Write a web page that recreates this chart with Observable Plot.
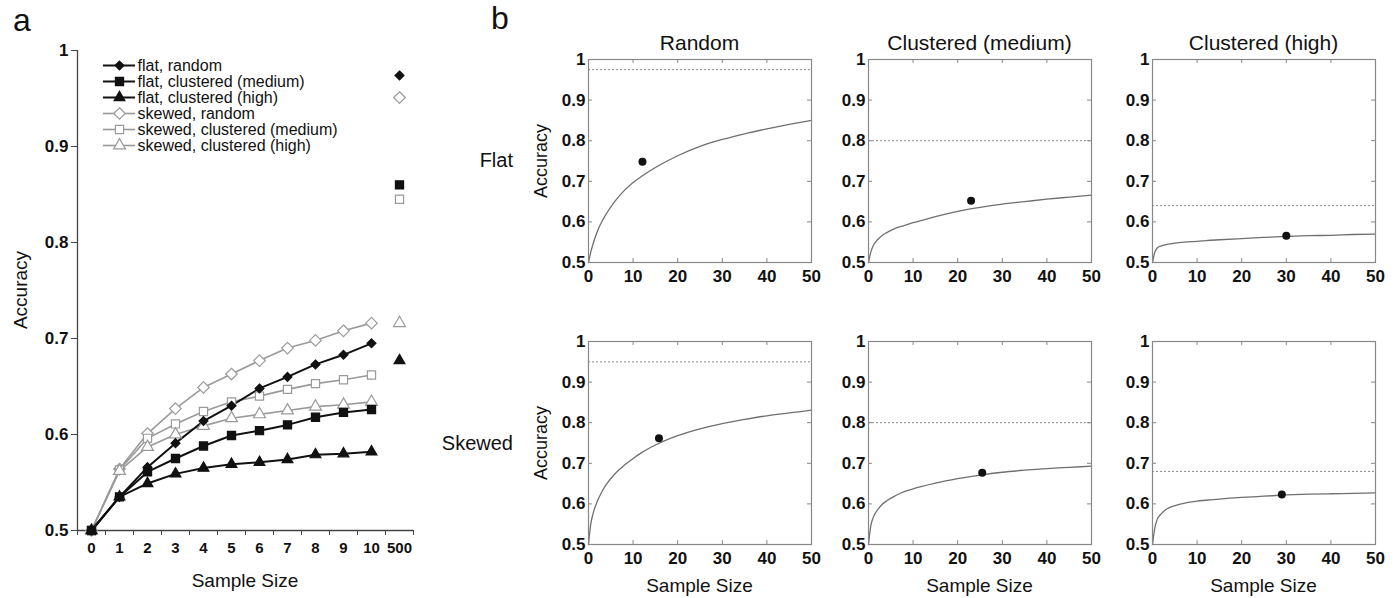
<!DOCTYPE html>
<html><head><meta charset="utf-8">
<script src="https://cdn.jsdelivr.net/npm/d3@7"></script>
<script src="https://cdn.jsdelivr.net/npm/@observablehq/plot@0.6"></script>
<style>
body{margin:0;background:#fff;}
#wrap{position:relative;width:1395px;height:598px;font-family:"Liberation Sans",Arial,sans-serif;overflow:hidden;background:#fff;color:#111;}
.lbl{position:absolute;white-space:nowrap;line-height:1;}
svg g[aria-label="x-axis tick label"] text, svg g[aria-label="y-axis tick label"] text{font-weight:bold;}
svg g[aria-label="x-axis tick label"], svg g[aria-label="y-axis tick label"]{font-weight:bold;}
</style></head><body><div id="wrap"></div>
<script>
// ---------- Panel a data ----------
const xTickLabelsA = ["0","1","2","3","4","5","6","7","8","9","10","500"];
const sampleSizesA = [0,1,2,3,4,5,6,7,8,9,10];
const seriesNames = ["flat, random","flat, clustered (medium)","flat, clustered (high)","skewed, random","skewed, clustered (medium)","skewed, clustered (high)"];
const flatRandom            = [0.500,0.535,0.566,0.591,0.614,0.630,0.648,0.660,0.673,0.683,0.695];
const flatClusteredMedium   = [0.500,0.535,0.561,0.575,0.588,0.599,0.604,0.610,0.618,0.623,0.626];
const flatClusteredHigh     = [0.500,0.535,0.549,0.559,0.565,0.569,0.571,0.574,0.579,0.580,0.582];
const skewedRandom          = [0.500,0.564,0.601,0.627,0.649,0.663,0.677,0.690,0.698,0.708,0.716];
const skewedClusteredMedium = [0.500,0.563,0.596,0.611,0.624,0.634,0.640,0.647,0.653,0.657,0.662];
const skewedClusteredHigh   = [0.500,0.562,0.587,0.600,0.609,0.617,0.621,0.625,0.629,0.631,0.634];
const accuracyAt500         = [0.974,0.860,0.677,0.951,0.845,0.716];
const yTicksA = [0.5,0.6,0.7,0.8,0.9,1];

// ---------- Panel b data ----------
const columnTitles = ["Random","Clustered (medium)","Clustered (high)"];
const rowTitles = ["Flat","Skewed"];
const sampleSizesB = [0,0.5,1,2,3,4,6,8,10,12,15,20,25,30,35,40,45,50];
const curveFlatRandom    = [0.500,0.525,0.545,0.577,0.601,0.620,0.652,0.677,0.697,0.713,0.734,0.763,0.786,0.803,0.817,0.829,0.840,0.850];
const curveFlatMedium    = [0.500,0.525,0.540,0.556,0.566,0.573,0.584,0.591,0.598,0.604,0.613,0.626,0.636,0.644,0.650,0.656,0.661,0.666];
const curveFlatHigh      = [0.500,0.525,0.535,0.541,0.544,0.546,0.549,0.551,0.552,0.554,0.556,0.559,0.562,0.564,0.566,0.567,0.569,0.570];
const curveSkewedRandom  = [0.500,0.550,0.575,0.607,0.630,0.648,0.675,0.695,0.712,0.727,0.745,0.768,0.785,0.798,0.808,0.817,0.824,0.831];
const curveSkewedMedium  = [0.500,0.545,0.565,0.585,0.598,0.607,0.620,0.630,0.637,0.643,0.651,0.662,0.671,0.678,0.683,0.687,0.690,0.693];
const curveSkewedHigh    = [0.500,0.540,0.560,0.576,0.586,0.592,0.599,0.604,0.607,0.609,0.612,0.616,0.619,0.622,0.624,0.625,0.626,0.627];
const observedX = [12.1, 23.0, 30.0, 15.8, 25.5, 29.0];
const observedY = [0.748, 0.652, 0.566, 0.762, 0.677, 0.623];
const asymptotes = [0.975, 0.80, 0.64, 0.95, 0.80, 0.68];
const yTicksB = [0.5,0.6,0.7,0.8,0.9,1];
const xTicksB = [0,10,20,30,40,50];

// ---------- helpers ----------
const wrap = document.getElementById("wrap");
function place(node, left, top) {
  node.style.position = "absolute";
  node.style.left = left + "px";
  node.style.top = top + "px";
  wrap.appendChild(node);
}
function label(text, left, top, size, opts = {}) {
  const d = document.createElement("div");
  d.className = "lbl";
  d.textContent = text;
  d.style.left = left + "px";
  d.style.top = top + "px";
  d.style.fontSize = size + "px";
  if (opts.transform) d.style.transform = opts.transform;
  if (opts.weight) d.style.fontWeight = opts.weight;
  wrap.appendChild(d);
}
const baseStyle = {fontFamily: "'Liberation Sans', Arial, sans-serif", fontSize: "16px", color: "#111", background: "transparent", overflow: "visible"};

// ---------- Panel a ----------
const seriesArrays = [flatRandom, flatClusteredMedium, flatClusteredHigh, skewedRandom, skewedClusteredMedium, skewedClusteredHigh];
const seriesLook = [
  {symbol: "diamond2", r: 4.0, fill: "#111", stroke: "#111", line: "#111", w: 2},
  {symbol: "square",   r: 4.6, fill: "#111", stroke: "#111", line: "#111", w: 2},
  {symbol: "triangle", r: 4.0, fill: "#111", stroke: "#111", line: "#111", w: 2},
  {symbol: "diamond2", r: 5.2, fill: "#fff", stroke: "#9a9a9a", line: "#9a9a9a", w: 1.6},
  {symbol: "square",   r: 4.6, fill: "#fff", stroke: "#9a9a9a", line: "#9a9a9a", w: 1.6},
  {symbol: "triangle", r: 4.4, fill: "#fff", stroke: "#9a9a9a", line: "#9a9a9a", w: 1.6}
];
const rowsA = seriesNames.map((name, i) => sampleSizesA.map((n, j) => ({series: name, pos: xTickLabelsA.indexOf(String(n)), acc: seriesArrays[i][j]})));
const rows500 = seriesNames.map((name, i) => ({series: name, pos: xTickLabelsA.indexOf("500"), acc: accuracyAt500[i]}));
const xDomainA = [-0.5, xTickLabelsA.length - 0.5];
const boundariesA = d3.range(xTickLabelsA.length + 1).map(i => i - 0.5);
const drawOrder = [3,4,5,0,1,2];
const marksA = [
  Plot.ruleX([xDomainA[0]], {stroke: "#444", strokeWidth: 1.3}),
  Plot.ruleY([yTicksA[0]], {stroke: "#444", strokeWidth: 1.3}),
  Plot.axisY(yTicksA, {label: null, tickSize: 6, tickPadding: 3, stroke: "#444", fontSize: 17, fontWeight: "bold", tickFormat: d => String(d)}),
  Plot.axisX(boundariesA, {label: null, tickSize: 5, tickPadding: 0, stroke: "#444", tickFormat: () => ""}),
  Plot.axisX(d3.range(xTickLabelsA.length), {label: null, tickSize: 0, tickPadding: 12, fontSize: 15, fontWeight: "bold", tickFormat: i => xTickLabelsA[i]})
];
for (const i of drawOrder) {
  const L = seriesLook[i];
  marksA.push(Plot.line(rowsA[i], {x: "pos", y: "acc", stroke: L.line, strokeWidth: L.w}));
}
for (const i of drawOrder) {
  const L = seriesLook[i];
  marksA.push(Plot.dot(rowsA[i].concat([rows500[i]]), {x: "pos", y: "acc", symbol: L.symbol, r: L.r, fill: L.fill, stroke: L.stroke, strokeWidth: 1.2}));
}
const plotA = Plot.plot({
  width: 440, height: 598,
  marginLeft: 77, marginRight: 27, marginTop: 50, marginBottom: 68,
  x: {domain: xDomainA, label: null},
  y: {domain: [yTicksA[0], yTicksA[yTicksA.length - 1]], label: null},
  style: baseStyle,
  marks: marksA
});
place(plotA, 0, 0);

// legend (own Plot)
const legendMarks = [];
for (const i of drawOrder) {
  const L = seriesLook[i];
  legendMarks.push(Plot.ruleY([seriesNames[i]], {y: d => d, stroke: L.line, strokeWidth: L.w}));
  legendMarks.push(Plot.dot([seriesNames[i]], {y: d => d, symbol: L.symbol, r: L.r, fill: L.fill, stroke: L.stroke, strokeWidth: 1.2}));
}
legendMarks.push(Plot.text(seriesNames, {y: d => d, text: d => d, frameAnchor: "right", textAnchor: "start", dx: 2, fontSize: 16, fill: "#111"}));
const legendA = Plot.plot({
  width: 360, height: 175,
  marginLeft: 103, marginRight: 225, marginTop: 57, marginBottom: 22,
  y: {type: "point", domain: seriesNames, axis: null},
  style: baseStyle,
  marks: legendMarks
});
place(legendA, 0, 0);

// ---------- Panel b ----------
const curves = [curveFlatRandom, curveFlatMedium, curveFlatHigh, curveSkewedRandom, curveSkewedMedium, curveSkewedHigh];
const colLeft = [588, 868, 1152];
const rowTop = [59, 341];
const FW = 223, FH = 203;
const ML = 50, MR = 15, MT = 10, MB = 32;
curves.forEach((curve, k) => {
  const r = Math.floor(k / 3), c = k % 3;
  const rows = sampleSizesB.map((n, j) => ({n, acc: curve[j]}));
  const p = Plot.plot({
    width: FW + ML + MR, height: FH + MT + MB,
    marginLeft: ML, marginRight: MR, marginTop: MT, marginBottom: MB,
    x: {domain: [xTicksB[0], xTicksB[xTicksB.length - 1]], label: null},
    y: {domain: [yTicksB[0], yTicksB[yTicksB.length - 1]], label: null},
    style: baseStyle,
    marks: [
      Plot.ruleY([asymptotes[k]], {stroke: "#8a8a8a", strokeDasharray: "2,2", strokeWidth: 1}),
      Plot.line(rows, {x: "n", y: "acc", curve: "monotone-x", stroke: "#6f6f6f", strokeWidth: 1.3}),
      Plot.dot([{n: observedX[k], acc: observedY[k]}], {x: "n", y: "acc", r: 4, fill: "#111"}),
      Plot.tickY(yTicksB, {y: d => d, insetRight: FW - 4, stroke: "#888"}),
      Plot.tickY(yTicksB, {y: d => d, insetLeft: FW - 4, stroke: "#888"}),
      Plot.tickX(xTicksB, {x: d => d, insetBottom: FH - 4, stroke: "#888"}),
      Plot.tickX(xTicksB, {x: d => d, insetTop: FH - 4, stroke: "#888"}),
      Plot.frame({stroke: "#888", strokeWidth: 1.2}),
      Plot.axisY(yTicksB, {label: null, tickSize: 0, tickPadding: 3, fontSize: 17, fontWeight: "bold", tickFormat: d => String(d)}),
      Plot.axisX(xTicksB, {label: null, tickSize: 0, tickPadding: 7, fontSize: 17, fontWeight: "bold"})
    ]
  });
  place(p, colLeft[c] - ML, rowTop[r] - MT);
});

// ---------- text labels ----------
label("a", 13, 4, 32);
label("b", 491, 2, 32);
columnTitles.forEach((t, c) => label(t, colLeft[c] + FW / 2, 32, 21, {transform: "translateX(-50%)"}));
label(rowTitles[0], 513, 150, 20, {transform: "translateX(-100%)"});
label(rowTitles[1], 513, 433, 20, {transform: "translateX(-100%)"});
label("Accuracy", 20, 290, 19, {transform: "translate(-50%,-50%) rotate(-90deg)"});
label("Sample Size", 245, 580, 19, {transform: "translate(-50%,-50%)"});
rowTop.forEach(t => label("Accuracy", 541, t + FH / 2, 18, {transform: "translate(-50%,-50%) rotate(-90deg)"}));
colLeft.forEach(l => label("Sample Size", l + FW / 2, 585, 19, {transform: "translate(-50%,-50%)"}));
</script>
</body></html>
